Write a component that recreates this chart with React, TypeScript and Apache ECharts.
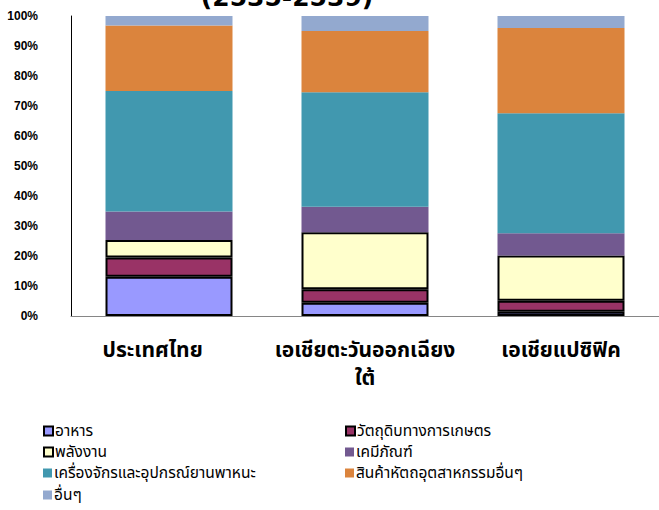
import React, { useEffect, useRef } from "react";
import * as echarts from "echarts";

const categories = ["ประเทศไทย\u00a0\u00a0\u00a0\u00a0\u00a0\u00a0", "เอเชียตะวันออกเฉียง\nใต้", "เอเชียแปซิฟิค"];
const seriesNames = [
  "อาหาร",
  "วัตถุดิบทางการเกษตร",
  "พลังงาน",
  "เคมีภัณฑ์",
  "เครื่องจักรและอุปกรณ์ยานพาหนะ",
  "สินค้าหัตถอุตสาหกรรมอื่นๆ",
  "อื่นๆ",
];
const food = [13.1, 4.4, 1.4];
const agri = [6.4, 4.5, 3.7];
const energy = [5.8, 19.0, 15.1];
const chem = [9.5, 8.5, 7.4];
const machinery = [40.2, 38.2, 40.0];
const otherIndustrial = [21.8, 20.4, 28.4];
const others = [3.2, 5.0, 4.0];
const yTicks = [0, 10, 20, 30, 40, 50, 60, 70, 80, 90, 100];

const values = [food, agri, energy, chem, machinery, otherIndustrial, others];
const colors = ["#9999FF", "#993366", "#FFFFCC", "#725990", "#4198AF", "#DB843D", "#93A9CF"];
const outlined = [true, true, true, false, false, false, false];
// legend layout: [column, row] for each series
const legendSlots = [
  [0, 0],
  [1, 0],
  [0, 1],
  [1, 1],
  [0, 2],
  [1, 2],
  [0, 3],
];

export default function App() {
  const ref = useRef<HTMLDivElement>(null);
  useEffect(() => {
    if (!ref.current) return;
    const chart = echarts.init(ref.current, undefined, { renderer: "svg" });
    const thaiFont = "'Noto Sans Thai', Tahoma, 'Noto Sans', sans-serif";
    const colX = [43, 345];
    const rowY = [421, 442, 463, 485];
    chart.setOption({
      animation: false,
      backgroundColor: "#ffffff",
      graphic: [
        {
          type: "text",
          x: 287,
          y: 10,
          style: {
            text: "(2535-2539)",
            font: "bold 25px 'DejaVu Sans'",
            fill: "#000",
            textAlign: "center",
            textVerticalAlign: "bottom",
          },
        },
      ],
      grid: { left: 71, top: 16, width: 593, height: 300, containLabel: false },
      xAxis: {
        type: "category",
        data: categories,
        axisLine: { lineStyle: { color: "#868686", width: 1 } },
        axisTick: { show: false },
        axisLabel: {
          interval: 0,
          color: "#000",
          fontWeight: "bold",
          fontSize: 21,
          fontFamily: thaiFont,
          margin: 20,
          lineHeight: 28,
        },
      },
      yAxis: {
        type: "value",
        min: 0,
        max: 100,
        interval: 10,
        axisLine: { show: true, lineStyle: { color: "#000", width: 1 } },
        axisTick: { show: false },
        splitLine: { show: false },
        axisLabel: {
          color: "#000",
          fontWeight: "bold",
          fontSize: 12,
          fontFamily: "'Liberation Sans', Arial, sans-serif",
          margin: 33,
          formatter: (v: number) => (yTicks.includes(v) ? v + "%" : ""),
        },
      },
      legend: seriesNames.map((name, i) => ({
        left: colX[legendSlots[i][0]],
        top: rowY[legendSlots[i][1]],
        padding: 0,
        itemWidth: 9,
        itemHeight: 9,
        icon: "rect",
        data: [name],
        textStyle: {
          fontSize: 15.5,
          lineHeight: 20,
          color: "#000",
          fontFamily: thaiFont,
          padding: [0, 0, 0, -3],
        },
      })),
      series: values.map((d, i) => ({
        name: seriesNames[i],
        type: "bar",
        stack: "total",
        barWidth: 127,
        data: d,
        itemStyle: {
          color: colors[i],
          borderColor: outlined[i] ? "#000" : colors[i],
          borderWidth: outlined[i] ? 2 : 0,
        },
      })),
    });
    return () => chart.dispose();
  }, []);
  return <div ref={ref} style={{ width: 659, height: 510, position: "absolute", left: 0, top: 0 }} />;
}
